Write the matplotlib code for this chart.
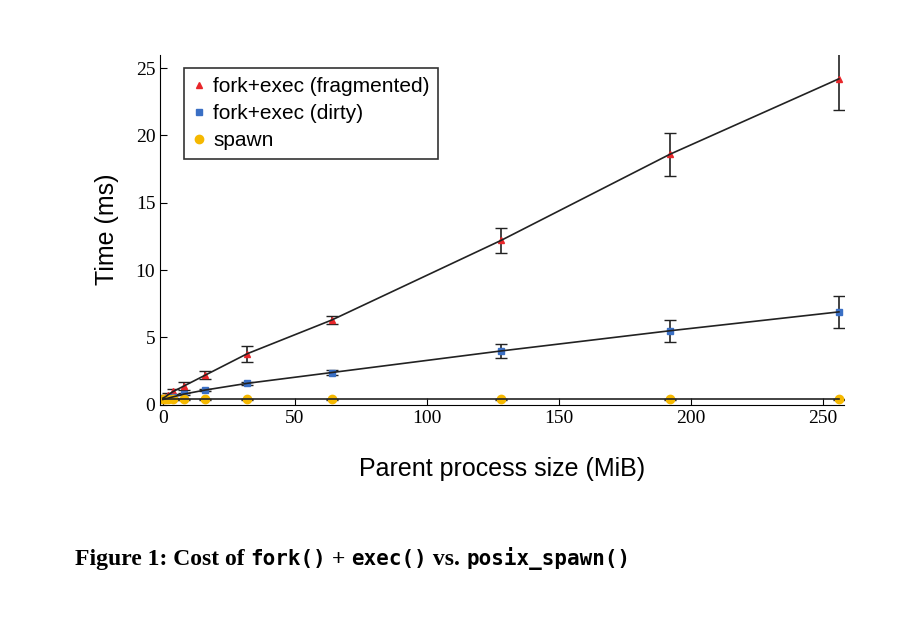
import matplotlib
matplotlib.use("Agg")
import matplotlib.pyplot as plt

sizes = [0, 1, 2, 4, 8, 16, 32, 64, 128, 192, 256]
frag = [0.5, 0.6, 0.75, 1.0, 1.4, 2.2, 3.8, 6.3, 12.2, 18.6, 24.2]
frag_err = [0.05, 0.1, 0.1, 0.2, 0.3, 0.3, 0.6, 0.3, 0.9, 1.6, 2.3]
dirty = [0.4, 0.45, 0.5, 0.6, 0.8, 1.1, 1.6, 2.4, 4.0, 5.5, 6.9]
dirty_err = [0.05, 0.05, 0.05, 0.1, 0.1, 0.1, 0.1, 0.2, 0.5, 0.8, 1.2]
spawn = [0.4, 0.4, 0.4, 0.4, 0.4, 0.4, 0.4, 0.4, 0.4, 0.4, 0.4]
spawn_err = [0.05] * 11

plt.rcParams["font.family"] = "Liberation Serif"
fig = plt.figure(figsize=(9, 6.2), dpi=100)
ax = fig.add_axes([0.178, 0.347, 0.76, 0.565])

for y, e, c, m, ms, lab in [(frag, frag_err, "#e8262a", "^", 4, "fork+exec (fragmented)"),
                            (dirty, dirty_err, "#3a6fc4", "s", 4, "fork+exec (dirty)"),
                            (spawn, spawn_err, "#f5b800", "o", 6, "spawn")]:
    ax.errorbar(sizes, y, yerr=e, color="#222222", lw=1.2, capsize=4, elinewidth=1.2)
    ax.plot(sizes, y, ls="none", marker=m, ms=ms, color=c, label=lab)

ax.set_xlim(-1, 258)
ax.set_ylim(0, 26)
ax.set_xticks([0, 50, 100, 150, 200, 250])
ax.set_yticks([0, 5, 10, 15, 20, 25])
ax.tick_params(labelsize=14, direction="in", length=5)
for s in ["top", "right"]:
    ax.spines[s].set_visible(False)
ax.set_xlabel("Parent process size (MiB)", fontsize=18, family="Liberation Sans", labelpad=22)
ax.set_ylabel("Time (ms)", fontsize=18, family="Liberation Sans", labelpad=12)
leg = ax.legend(loc="upper left", bbox_to_anchor=(0.02, 0.99),
                prop={"family": "Liberation Sans", "size": 15},
                fancybox=False, edgecolor="black", handlelength=0.6, handletextpad=0.4,
                borderpad=0.4, labelspacing=0.4)
leg.get_frame().set_linewidth(1.2)

# caption mixing serif bold and monospace bold
parts = [("Figure 1: Cost of ", "Liberation Serif"), ("fork()", "DejaVu Sans Mono"),
         (" + ", "Liberation Serif"), ("exec()", "DejaVu Sans Mono"),
         (" vs. ", "Liberation Serif"), ("posix_spawn()", "DejaVu Sans Mono")]
fig.canvas.draw()
r = fig.canvas.get_renderer()
xpos = 75 / 900
for txt, fam in parts:
    t = fig.text(xpos, 0.088, txt, fontsize=17 if fam != "DejaVu Sans Mono" else 15,
                 fontweight="bold", family=fam, ha="left")
    bb = t.get_window_extent(renderer=r)
    xpos += bb.width / fig.bbox.width
fig.savefig("out.png")
